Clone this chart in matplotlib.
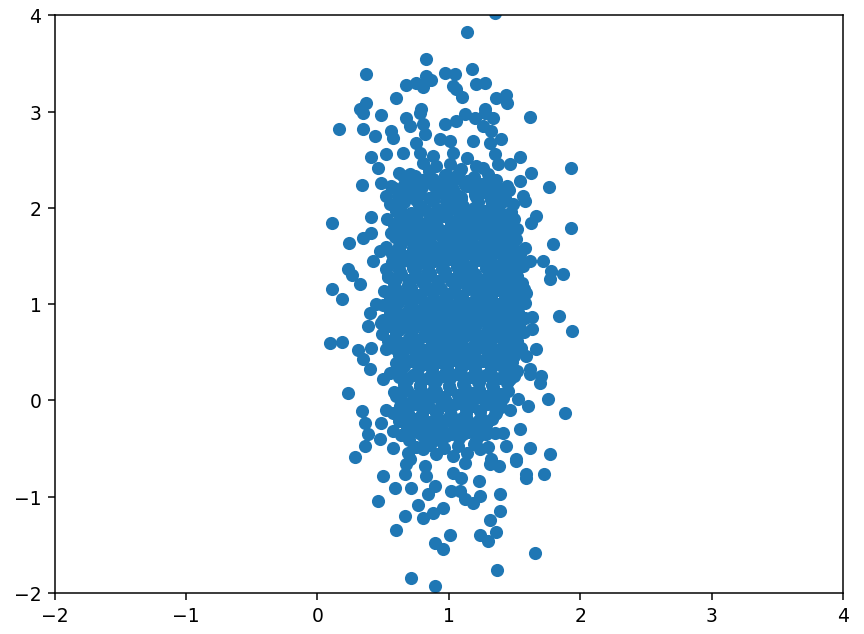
import matplotlib
matplotlib.use("Agg")
import matplotlib.pyplot as plt

# points sitting around the edge of the cloud
outer_x = [1.355, 1.139, 0.830, 0.369, 1.177, 0.970, 1.046, 0.830, 0.868, 0.754,
           0.671, 0.805, 1.033, 1.211, 1.279, 1.058, 1.104, 0.602, 0.369, 1.357,
           1.433, 1.443, 0.787, 1.274, 0.323,
           0.344, 0.481, 0.671, 0.779, 1.616, 0.166, 0.344, 0.437, 0.564, 0.577,
           0.703, 0.805, 0.817, 0.970, 1.058, 1.122, 1.198, 1.274, 1.337, 1.261,
           1.325, 0.932, 1.008, 1.185, 1.401, 1.312, 0.754, 0.653, 0.526, 0.407,
           0.779, 0.881, 1.033, 1.135, 1.350, 1.545, 1.464, 1.375, 0.463, 0.703,
           0.805, 0.906, 1.008, 1.096, 1.211, 1.261, 1.933, 1.629, 1.540, 1.763,
           0.336, 0.488, 0.564, 0.653, 0.830, 0.957, 1.058, 1.160, 1.312, 1.388,
           1.565, 0.526, 0.754, 0.906, 1.211, 0.729,
           0.108, 0.407, 1.933, 0.242, 0.348, 0.412, 1.793, 1.667, 1.629, 1.578,
           1.489, 1.515, 1.578, 1.477, 1.388, 0.475, 0.424, 0.234, 0.260, 0.323,
           0.108, 0.538, 1.616, 1.717, 1.781, 1.869, 1.565, 1.515, 1.413,
           0.189, 1.839, 1.941, 1.636, 1.636, 0.100, 0.184, 0.310, 0.412, 0.526,
           0.386, 0.399, 0.450, 0.538, 0.488, 1.591, 1.667, 1.591, 1.616, 1.705,
           0.348, 0.551, 1.464, 1.768,
           0.234, 0.336, 0.361, 0.386, 0.475, 0.361, 0.285, 0.577, 0.572, 0.488,
           0.526, 0.602, 0.501, 0.399, 1.882, 1.755, 1.692, 1.616, 1.527, 1.603,
           1.540, 1.413, 1.439, 1.616, 1.768, 1.515, 1.325, 0.691, 0.703, 0.805,
           0.906, 1.033, 1.135, 1.236, 0.703, 0.805, 0.982, 1.109, 1.287, 1.236,
           1.363, 1.464, 0.678, 0.577, 0.805, 0.906, 1.058, 1.464,
           0.501, 0.589, 0.458, 0.665, 0.678, 0.716, 0.817, 0.830, 0.894, 0.843,
           0.767, 0.665, 0.805, 0.881, 0.957, 0.597, 0.894, 0.957, 1.013, 1.033,
           1.096, 1.020, 1.084, 1.122, 1.185, 1.236, 1.230, 1.312, 1.382, 1.515,
           1.591, 1.591, 1.722, 1.388, 1.388, 1.312, 1.357, 1.236, 1.299, 1.659,
           1.122, 1.367, 0.711, 0.894]
outer_y = [4.030, 3.833, 3.545, 3.389, 3.448, 3.406, 3.396, 3.371, 3.330, 3.302,
           3.274, 3.261, 3.267, 3.285, 3.302, 3.233, 3.157, 3.147, 3.095, 3.147,
           3.170, 3.095, 3.025, 3.025, 3.025,
           2.983, 2.963, 2.939, 2.991, 2.949, 2.817, 2.817, 2.747, 2.799, 2.731,
           2.851, 2.869, 2.765, 2.869, 2.903, 2.973, 2.939, 2.991, 2.939, 2.851,
           2.799, 2.713, 2.695, 2.695, 2.713, 2.678, 2.678, 2.575, 2.557, 2.533,
           2.575, 2.540, 2.575, 2.523, 2.557, 2.533, 2.453, 2.453, 2.419, 2.349,
           2.471, 2.436, 2.453, 2.401, 2.436, 2.419, 2.419, 2.367, 2.280, 2.221,
           2.235, 2.263, 2.228, 2.332, 2.297, 2.263, 2.297, 2.263, 2.176, 2.141,
           2.124, 2.124, 2.159, 2.141, 2.141, 2.193,
           1.847, 1.905, 1.795, 1.639, 1.691, 1.743, 1.622, 1.916, 1.847, 2.072,
           2.037, 1.674, 1.587, 1.795, 1.778, 1.552, 1.448, 1.362, 1.299, 1.206,
           1.161, 1.286, 1.448, 1.448, 1.343, 1.310, 1.396, 1.292, 1.500,
           1.057, 0.876, 0.721, 0.870, 0.738, 0.593, 0.606, 0.523, 0.548, 0.530,
           0.772, 0.912, 0.998, 1.016, 0.808, 1.120, 0.530, 0.461, 0.322, 0.253,
           0.426, 0.288, 0.322, 1.258,
           0.073, -0.111, -0.232, -0.353, -0.405, -0.475, -0.586, -0.492, -0.319, -0.232,
           -0.094, 0.045, 0.218, 0.322, -0.128, 0.018, 0.184, 0.270, 0.010, -0.059,
           -0.301, -0.336, -0.475, -0.492, -0.561, -0.606, -0.613, -0.544, -0.613, -0.509,
           -0.561, -0.579, -0.544, -0.509, -0.336, -0.371, -0.371, -0.353, -0.353, -0.198,
           -0.128, -0.094, -0.198, -0.128, -0.198, -0.128, -0.198, 0.218,
           -0.780, -0.908, -1.046, -0.769, -0.665, -0.908, -0.683, -0.787, -0.891, -0.977,
           -1.081, -1.203, -1.219, -1.167, -1.115, -1.351, -1.479, -1.542, -1.393, -0.752,
           -0.804, -0.943, -0.943, -1.029, -1.064, -0.995, -0.839, -0.665, -0.683, -0.631,
           -0.769, -0.804, -0.759, -0.970, -1.151, -1.244, -1.369, -1.393, -1.462, -1.583,
           -0.648, -1.757, -1.843, -1.923]

# points filling the dense middle of the cloud (estimated)
core_x = [0.62, 0.74, 0.85, 0.97, 1.08, 1.19, 1.30,
          0.68, 0.80, 0.91, 1.03, 1.14, 1.25, 1.36,
          0.58, 0.69, 0.80, 0.92, 1.03, 1.14, 1.26, 1.37, 1.46,
          0.61, 0.73, 0.86, 0.97, 1.09, 1.20, 1.31, 1.42,
          0.55, 0.66, 0.77, 0.88, 1.00, 1.11, 1.22, 1.33, 1.42,
          0.60, 0.71, 0.82, 0.94, 1.05, 1.16, 1.27, 1.38, 1.47,
          0.53, 0.63, 0.74, 0.86, 0.96, 1.07, 1.18, 1.29, 1.40, 1.50,
          0.58, 0.69, 0.80, 0.91, 1.02, 1.13, 1.24, 1.35, 1.45,
          0.56, 0.68, 0.79, 0.90, 1.01, 1.12, 1.24, 1.35, 1.45,
          0.62, 0.73, 0.85, 0.96, 1.07, 1.18, 1.29, 1.40, 1.50,
          0.52, 0.62, 0.73, 0.84, 0.95, 1.06, 1.17, 1.28, 1.39, 1.49,
          0.57, 0.68, 0.79, 0.90, 1.01, 1.12, 1.23, 1.34, 1.44, 1.54,
          0.57, 0.67, 0.78, 0.89, 1.00, 1.11, 1.22, 1.33, 1.44, 1.55,
          0.52, 0.62, 0.73, 0.84, 0.95, 1.06, 1.17, 1.28, 1.39, 1.49,
          0.54, 0.64, 0.75, 0.86, 0.97, 1.08, 1.19, 1.30, 1.41, 1.52,
          0.58, 0.69, 0.80, 0.91, 1.02, 1.13, 1.24, 1.35, 1.46, 1.56,
          0.51, 0.60, 0.71, 0.82, 0.93, 1.04, 1.15, 1.26, 1.37, 1.48, 1.57,
          0.55, 0.66, 0.77, 0.88, 0.99, 1.10, 1.21, 1.32, 1.43, 1.53,
          0.50, 0.61, 0.72, 0.83, 0.94, 1.05, 1.16, 1.27, 1.38, 1.49, 1.58,
          0.55, 0.66, 0.77, 0.88, 0.99, 1.10, 1.21, 1.32, 1.43, 1.53,
          0.50, 0.61, 0.72, 0.83, 0.94, 1.05, 1.16, 1.27, 1.38, 1.49, 1.58,
          0.54, 0.65, 0.76, 0.87, 0.98, 1.09, 1.20, 1.31, 1.42, 1.52,
          0.49, 0.60, 0.71, 0.82, 0.93, 1.04, 1.15, 1.26, 1.37, 1.47, 1.57,
          0.54, 0.65, 0.76, 0.87, 0.98, 1.09, 1.20, 1.31, 1.42, 1.52,
          0.58, 0.69, 0.80, 0.91, 1.02, 1.13, 1.24, 1.35, 1.46, 1.55,
          0.62, 0.74, 0.85, 0.96, 1.07, 1.18, 1.29, 1.40, 1.50,
          0.60, 0.71, 0.82, 0.93, 1.04, 1.15, 1.26, 1.37, 1.48,
          0.64, 0.76, 0.87, 0.98, 1.09, 1.20, 1.31, 1.42, 1.52,
          0.62, 0.73, 0.84, 0.95, 1.06, 1.17, 1.28, 1.39, 1.50,
          0.66, 0.78, 0.89, 1.00, 1.11, 1.22, 1.33, 1.44,
          0.58, 0.68, 0.79, 0.90, 1.01, 1.12, 1.23, 1.34, 1.45,
          0.64, 0.75, 0.86, 0.97, 1.08, 1.19, 1.30, 1.41,
          0.63, 0.74, 0.85, 0.96, 1.07, 1.18, 1.29, 1.40,
          0.69, 0.80, 0.91, 1.02, 1.13, 1.24, 1.35,
          0.62, 0.74, 0.86, 0.98, 1.10, 1.22, 1.33,
          0.68, 0.80, 0.92, 1.04, 1.16, 1.28,
          0.64, 0.77, 0.88, 1.02, 1.15, 1.24, 1.35,
          0.75, 0.86, 0.96, 1.07, 1.19, 1.30]
core_y = [2.36, 2.33, 2.38, 2.34, 2.37, 2.32, 2.35,
          2.27, 2.29, 2.26, 2.30, 2.28, 2.25, 2.29,
          2.21, 2.18, 2.22, 2.19, 2.20, 2.23, 2.17, 2.21, 2.19,
          2.12, 2.14, 2.10, 2.13, 2.11, 2.14, 2.12, 2.10,
          2.04, 2.06, 2.03, 2.07, 2.05, 2.02, 2.06, 2.04, 2.07,
          1.97, 1.95, 1.98, 1.96, 1.99, 1.95, 1.97, 1.98, 1.96,
          1.89, 1.91, 1.88, 1.90, 1.92, 1.89, 1.91, 1.88, 1.90, 1.89,
          1.82, 1.80, 1.83, 1.81, 1.84, 1.82, 1.80, 1.83, 1.81,
          1.74, 1.76, 1.73, 1.75, 1.77, 1.74, 1.76, 1.73, 1.75,
          1.67, 1.66, 1.68, 1.65, 1.67, 1.69, 1.66, 1.68, 1.66,
          1.59, 1.61, 1.58, 1.60, 1.62, 1.59, 1.61, 1.58, 1.60, 1.59,
          1.52, 1.50, 1.53, 1.51, 1.54, 1.52, 1.50, 1.53, 1.51, 1.52,
          1.44, 1.46, 1.43, 1.45, 1.47, 1.44, 1.46, 1.43, 1.45, 1.44,
          1.37, 1.36, 1.38, 1.35, 1.37, 1.39, 1.36, 1.38, 1.36, 1.37,
          1.29, 1.31, 1.28, 1.30, 1.32, 1.29, 1.31, 1.28, 1.30, 1.29,
          1.22, 1.20, 1.23, 1.21, 1.24, 1.22, 1.20, 1.23, 1.21, 1.22,
          1.14, 1.16, 1.13, 1.15, 1.17, 1.14, 1.16, 1.13, 1.15, 1.14, 1.16,
          1.07, 1.06, 1.08, 1.05, 1.07, 1.09, 1.06, 1.08, 1.06, 1.07,
          0.99, 1.01, 0.98, 1.00, 1.02, 0.99, 1.01, 0.98, 1.00, 0.99, 1.01,
          0.92, 0.90, 0.93, 0.91, 0.94, 0.92, 0.90, 0.93, 0.91, 0.92,
          0.84, 0.86, 0.83, 0.85, 0.87, 0.84, 0.86, 0.83, 0.85, 0.84, 0.86,
          0.77, 0.76, 0.78, 0.75, 0.77, 0.79, 0.76, 0.78, 0.76, 0.77,
          0.69, 0.71, 0.68, 0.70, 0.72, 0.69, 0.71, 0.68, 0.70, 0.69, 0.71,
          0.62, 0.60, 0.63, 0.61, 0.64, 0.62, 0.60, 0.63, 0.61, 0.62,
          0.54, 0.56, 0.53, 0.55, 0.57, 0.54, 0.56, 0.53, 0.55, 0.54,
          0.47, 0.46, 0.48, 0.45, 0.47, 0.49, 0.46, 0.48, 0.46,
          0.39, 0.41, 0.38, 0.40, 0.42, 0.39, 0.41, 0.38, 0.40,
          0.32, 0.30, 0.33, 0.31, 0.34, 0.32, 0.30, 0.33, 0.31,
          0.24, 0.26, 0.23, 0.25, 0.27, 0.24, 0.26, 0.23, 0.25,
          0.17, 0.16, 0.18, 0.15, 0.17, 0.19, 0.16, 0.18,
          0.09, 0.11, 0.08, 0.10, 0.12, 0.09, 0.11, 0.08, 0.10,
          0.02, 0.00, 0.03, 0.01, 0.04, 0.02, 0.00, 0.03,
          -0.06, -0.04, -0.07, -0.05, -0.03, -0.06, -0.04, -0.07,
          -0.13, -0.14, -0.12, -0.15, -0.13, -0.11, -0.14,
          -0.21, -0.19, -0.22, -0.20, -0.18, -0.21, -0.19,
          -0.28, -0.29, -0.27, -0.30, -0.28, -0.26,
          -0.36, -0.34, -0.37, -0.35, -0.33, -0.36, -0.34,
          -0.48, -0.46, -0.49, -0.47, -0.45, -0.48]

# extra points in the gaps of the middle (estimated)
fill_x = [0.72, 0.88, 1.01, 1.17,
          0.64, 0.78, 0.92, 1.06, 1.20, 1.34,
          0.63, 0.79, 0.91, 1.05, 1.19, 1.31,
          0.66, 0.77, 0.90, 1.04, 1.17, 1.31, 1.41,
          0.59, 0.70, 0.82, 0.93, 1.04, 1.15, 1.26, 1.37, 1.47,
          0.62, 0.75, 0.86, 0.97, 1.08, 1.20, 1.31, 1.41,
          0.62, 0.72, 0.84, 0.95, 1.06, 1.17, 1.28, 1.39, 1.50,
          0.60, 0.70, 0.81, 0.92, 1.03, 1.14, 1.25, 1.36, 1.47,
          0.56, 0.66, 0.77, 0.88, 0.99, 1.10, 1.21, 1.32, 1.43, 1.52,
          0.59, 0.70, 0.81, 0.92, 1.03, 1.14, 1.25, 1.36, 1.46,
          0.56, 0.67, 0.78, 0.89, 1.00, 1.11, 1.22, 1.33, 1.44, 1.54,
          0.59, 0.70, 0.81, 0.92, 1.03, 1.14, 1.25, 1.36, 1.47,
          0.63, 0.75, 0.86, 0.97, 1.08, 1.19, 1.30, 1.41, 1.51,
          0.66, 0.77, 0.88, 0.99, 1.10, 1.21, 1.32, 1.43,
          0.68, 0.79, 0.90, 1.01, 1.12, 1.23, 1.34, 1.45,
          0.63, 0.74, 0.85, 0.96, 1.07, 1.18, 1.29, 1.40,
          0.68, 0.80, 0.91, 1.02, 1.13, 1.24, 1.35,
          0.68, 0.80, 0.92, 1.04, 1.16, 1.28,
          0.70, 0.82, 0.94, 1.08, 1.21]
fill_y = [2.31, 2.30, 2.32, 2.29,
          2.16, 2.15, 2.17, 2.14, 2.16, 2.18,
          2.00, 2.01, 1.99, 2.02, 2.00, 1.98,
          1.86, 1.85, 1.87, 1.84, 1.86, 1.88, 1.85,
          1.70, 1.71, 1.69, 1.72, 1.70, 1.68, 1.71, 1.69, 1.70,
          1.56, 1.55, 1.57, 1.54, 1.56, 1.58, 1.55, 1.57,
          1.41, 1.42, 1.40, 1.43, 1.41, 1.39, 1.42, 1.40, 1.41,
          1.26, 1.25, 1.27, 1.24, 1.26, 1.28, 1.25, 1.27, 1.26,
          1.11, 1.12, 1.10, 1.13, 1.11, 1.09, 1.12, 1.10, 1.11, 1.12,
          0.96, 0.95, 0.97, 0.94, 0.96, 0.98, 0.95, 0.97, 0.96,
          0.81, 0.82, 0.80, 0.83, 0.81, 0.79, 0.82, 0.80, 0.81, 0.82,
          0.66, 0.65, 0.67, 0.64, 0.66, 0.68, 0.65, 0.67, 0.66,
          0.51, 0.52, 0.50, 0.53, 0.51, 0.49, 0.52, 0.50, 0.51,
          0.36, 0.35, 0.37, 0.34, 0.36, 0.38, 0.35, 0.37,
          0.21, 0.22, 0.20, 0.23, 0.21, 0.19, 0.22, 0.20,
          0.06, 0.05, 0.07, 0.04, 0.06, 0.08, 0.05, 0.07,
          -0.09, -0.08, -0.10, -0.07, -0.09, -0.11, -0.08,
          -0.24, -0.25, -0.23, -0.26, -0.24, -0.22,
          -0.41, -0.40, -0.42, -0.39, -0.41]

# a second layer for the remaining holes in the middle (estimated)
fill2_x = [0.66, 0.77, 0.89, 0.99, 1.12, 1.23, 1.34, 1.44,
           0.63, 0.75, 0.85, 0.98, 1.09, 1.21, 1.32, 1.43,
           0.65, 0.76, 0.88, 0.99, 1.11, 1.22, 1.33, 1.43,
           0.61, 0.74, 0.86, 0.97, 1.09, 1.20, 1.31, 1.42, 1.52,
           0.64, 0.76, 0.87, 0.98, 1.10, 1.21, 1.32, 1.43,
           0.60, 0.73, 0.84, 0.96, 1.07, 1.19, 1.30, 1.41, 1.51,
           0.63, 0.74, 0.86, 0.97, 1.08, 1.20, 1.31, 1.42,
           0.58, 0.71, 0.83, 0.94, 1.05, 1.17, 1.28, 1.39, 1.50,
           0.62, 0.73, 0.85, 0.96, 1.08, 1.19, 1.30, 1.41, 1.51,
           0.59, 0.71, 0.82, 0.94, 1.05, 1.16, 1.28, 1.39, 1.49,
           0.62, 0.73, 0.85, 0.96, 1.07, 1.19, 1.30, 1.41, 1.51,
           0.64, 0.76, 0.87, 0.98, 1.10, 1.21, 1.32, 1.43,
           0.67, 0.78, 0.90, 1.01, 1.12, 1.24, 1.35, 1.46,
           0.64, 0.75, 0.87, 0.98, 1.09, 1.21, 1.32, 1.43,
           0.66, 0.78, 0.89, 1.00, 1.12, 1.23, 1.34,
           0.71, 0.82, 0.94, 1.05, 1.16, 1.27, 1.38,
           0.66, 0.79, 0.90, 1.01, 1.13, 1.25,
           0.72, 0.84, 0.96, 1.09, 1.21]
fill2_y = [2.24, 2.25, 2.23, 2.26, 2.24, 2.22, 2.25, 2.23,
           2.09, 2.08, 2.10, 2.07, 2.09, 2.11, 2.08, 2.10,
           1.93, 1.94, 1.92, 1.95, 1.93, 1.91, 1.94, 1.92,
           1.78, 1.77, 1.79, 1.76, 1.78, 1.80, 1.77, 1.79, 1.78,
           1.63, 1.64, 1.62, 1.65, 1.63, 1.61, 1.64, 1.62,
           1.48, 1.47, 1.49, 1.46, 1.48, 1.50, 1.47, 1.49, 1.48,
           1.33, 1.34, 1.32, 1.35, 1.33, 1.31, 1.34, 1.32,
           1.18, 1.17, 1.19, 1.16, 1.18, 1.20, 1.17, 1.19, 1.18,
           1.03, 1.04, 1.02, 1.05, 1.03, 1.01, 1.04, 1.02, 1.03,
           0.88, 0.87, 0.89, 0.86, 0.88, 0.90, 0.87, 0.89, 0.88,
           0.73, 0.74, 0.72, 0.75, 0.73, 0.71, 0.74, 0.72, 0.73,
           0.58, 0.57, 0.59, 0.56, 0.58, 0.60, 0.57, 0.59,
           0.43, 0.44, 0.42, 0.45, 0.43, 0.41, 0.44, 0.42,
           0.28, 0.27, 0.29, 0.26, 0.28, 0.30, 0.27, 0.29,
           0.13, 0.14, 0.12, 0.15, 0.13, 0.11, 0.14,
           -0.02, -0.03, -0.01, -0.04, -0.02, 0.00, -0.03,
           -0.17, -0.16, -0.18, -0.15, -0.17, -0.19,
           -0.32, -0.31, -0.33, -0.30, -0.32]

x = outer_x + core_x + fill_x + fill2_x
y = outer_y + core_y + fill_y + fill2_y

fig = plt.figure(figsize=(6.4, 4.7), dpi=135)
ax = fig.add_axes([0.0631, 0.0647, 0.9126, 0.9101])
ax.scatter(x, y)
ax.set_xlim(-2, 4)
ax.set_ylim(-2, 4)

fig.savefig("out.png", dpi=135)
